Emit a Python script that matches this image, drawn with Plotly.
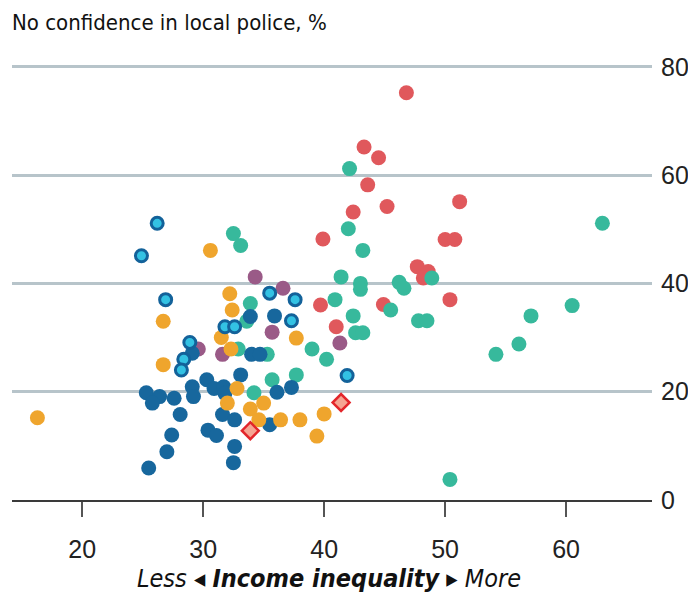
import plotly.graph_objects as go

# ---- data (income inequality index, % no confidence in local police) ----
red_x = [46.8, 43.3, 44.5, 43.6, 45.2, 42.4, 51.2, 39.9, 50.0, 50.8, 47.7, 48.6, 48.2, 50.4, 39.7, 44.9, 41.0]
red_y = [75.2, 65.2, 63.2, 58.2, 54.2, 53.2, 55.1, 48.2, 48.1, 48.1, 43.1, 42.2, 41.0, 37.0, 36.0, 36.1, 32.0]

teal_x = [42.1, 42.0, 43.2, 32.5, 33.1, 41.4, 43.0, 43.0, 46.2, 46.6, 48.9, 40.9, 45.5, 42.4, 47.8, 48.5, 42.6,
          43.2, 39.0, 40.2, 54.2, 56.1, 57.1, 60.5, 63.0, 50.4, 33.9, 33.6, 32.9, 35.3, 35.7, 37.7, 34.2]
teal_y = [61.2, 50.1, 46.1, 49.2, 47.0, 41.2, 40.0, 38.9, 40.2, 39.1, 41.0, 37.0, 35.1, 34.0, 33.1, 33.1, 30.9,
          30.9, 27.9, 26.0, 26.9, 28.8, 34.0, 35.9, 51.1, 3.8, 36.3, 33.0, 27.9, 26.9, 22.2, 23.1, 19.8]

purple_x = [34.3, 36.6, 35.7, 41.3, 29.6, 31.6]
purple_y = [41.2, 39.1, 31.0, 29.0, 27.9, 26.9]

blue_x = [33.9, 35.9, 29.1, 34.0, 34.7, 30.3, 33.1, 29.1, 29.2, 30.9, 31.7, 31.8, 36.1, 37.3, 25.3, 26.4, 25.8,
          27.6, 28.1, 31.6, 32.6, 35.5, 30.4, 31.1, 27.4, 32.6, 27.0, 32.5, 25.5]
blue_y = [33.9, 34.0, 27.1, 26.9, 26.9, 22.2, 23.1, 20.9, 19.1, 20.6, 20.9, 19.7, 19.9, 20.8, 19.8, 19.1, 17.9,
          18.8, 15.8, 15.8, 14.8, 13.9, 12.9, 11.9, 12.0, 9.9, 8.9, 6.9, 5.9]

orange_x = [16.3, 30.6, 32.2, 32.4, 26.7, 31.5, 37.7, 32.3, 26.7, 32.8, 32.0, 33.9, 35.0, 34.6, 36.4, 38.0, 40.0, 39.4]
orange_y = [15.2, 46.1, 38.1, 35.1, 33.0, 30.0, 29.9, 27.9, 25.0, 20.6, 17.9, 16.8, 17.9, 14.8, 14.8, 14.8, 15.9, 11.8]

ring_x = [26.2, 24.9, 26.9, 35.5, 37.6, 37.3, 31.8, 32.6, 28.9, 28.4, 28.2, 41.9]
ring_y = [51.1, 45.1, 37.0, 38.2, 37.0, 33.1, 32.0, 32.0, 29.1, 26.0, 24.0, 23.0]

diamond_x = [33.9, 41.4]
diamond_y = [12.8, 18.0]

x_ticks = [20, 30, 40, 50, 60]
y_ticks = [0, 20, 40, 60, 80]

TITLE = "No confidence in local police, %"
XLABEL = "<i>Less</i> \u25C2 <b><i>Income inequality</i></b> \u25B8 <i>More</i>"

# page body has an 8px margin; figure is sized/offset to compensate
W, H = 688, 588
ML, MR, MT, MB = 4, 44, 48, 96

fig = go.Figure()

def dots(x, y, color):
    fig.add_trace(go.Scatter(x=x, y=y, mode="markers", hoverinfo="skip",
                             marker=dict(size=15, color=color, line=dict(width=0))))

dots(red_x, red_y, "#e0585c")
dots(teal_x, teal_y, "#37b99c")
dots(purple_x, purple_y, "#9a5a87")
dots(blue_x, blue_y, "#17679d")
dots(orange_x, orange_y, "#efa52d")
fig.add_trace(go.Scatter(x=ring_x, y=ring_y, mode="markers", hoverinfo="skip",
                         marker=dict(size=12, color="#33c2e3", line=dict(width=3, color="#13629a"))))
fig.add_trace(go.Scatter(x=diamond_x, y=diamond_y, mode="markers", hoverinfo="skip",
                         marker=dict(size=13, symbol="diamond", color="#f5a593",
                                     line=dict(width=2.5, color="#e3262b"))))

fig.update_layout(
    width=W, height=H,
    margin=dict(l=ML, r=MR, t=MT, b=MB, autoexpand=False),
    paper_bgcolor="white", plot_bgcolor="white",
    showlegend=False,
    font=dict(family="Liberation Sans, Arial, sans-serif", color="#222"),
    title=dict(text=TITLE, x=4/W, xanchor="left", y=1-14/H, yanchor="middle",
               font=dict(family="Liberation Sans Narrow, DejaVu Sans Condensed, sans-serif", size=22, color="#111")),
    xaxis=dict(range=[14.2, 67.1], tickvals=x_ticks, showgrid=False, zeroline=False, automargin=False,
               showline=True, linecolor="#3a3a3a", linewidth=2,
               ticks="outside", ticklen=15, tickwidth=1.5, tickcolor="#555",
               ticklabelstandoff=11,
               tickfont=dict(size=25, color="#222")),
    yaxis=dict(range=[0, 82], tickvals=y_ticks, side="right", showgrid=True, automargin=False,
               gridcolor="#b7c4ca", gridwidth=3, zeroline=False, showline=False,
               ticks="", ticklabelstandoff=8,
               tickfont=dict(size=25, color="#222")),
)

fig.add_annotation(text=XLABEL, xref="paper", yref="paper", x=(329-12)/640, y=-78/444,
                   xanchor="center", yanchor="middle", showarrow=False,
                   font=dict(family="Liberation Sans Narrow, DejaVu Sans Condensed, sans-serif", size=25, color="#111"))

fig.write_html("out.html")
